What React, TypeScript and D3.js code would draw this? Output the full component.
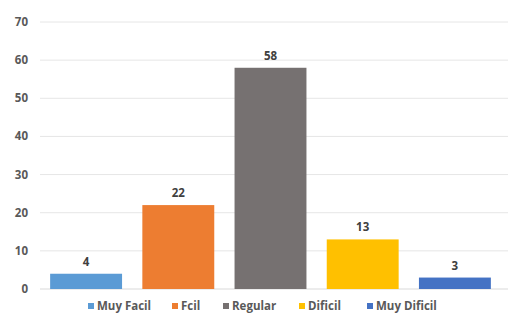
import React from "react";
import * as d3 from "d3";

const categories = ["Muy Facil", "Fcil", "Regular", "Dificil", "Muy Dificil"];
const values = [4, 22, 58, 13, 3];
const colors = ["#5B9BD5", "#ED7D31", "#767171", "#FFC000", "#4472C4"];
const yTicks = [0, 10, 20, 30, 40, 50, 60, 70];

const W = 511, H = 314;
const left = 40, right = 501, top = 22, bottom = 289;

export default function App() {
  const x = d3.scaleBand<string>().domain(categories).range([left, right]).paddingInner(0.22).paddingOuter(0.11);
  const y = d3.scaleLinear().domain([0, 70]).range([bottom, top]);
  const font = "'Open Sans', 'Liberation Sans', sans-serif";
  const legendX = [88, 172, 223, 299, 367];
  return (
    <svg width={W} height={H} style={{ position: "absolute", left: 0, top: 0, background: "#fff" }}>
      {yTicks.map((t) => (
        <g key={t}>
          <line x1={left} x2={508} y1={y(t)} y2={y(t)} stroke={t === 0 ? "#d9d9d9" : "#e6e6e6"} strokeWidth={1} />
          <text x={28} y={y(t) + 4} textAnchor="end" fontSize={11.5} fontWeight={700} fill="#595959" fontFamily={font}>{t}</text>
        </g>
      ))}
      {categories.map((c, i) => (
        <g key={c}>
          <rect x={x(c)} y={y(values[i])} width={x.bandwidth()} height={bottom - y(values[i])} fill={colors[i]} />
          <text x={(x(c) as number) + x.bandwidth() / 2} y={y(values[i]) - 8} textAnchor="middle" fontSize={11.5} fontWeight={700} fill="#404040" fontFamily={font}>{values[i]}</text>
        </g>
      ))}
      {categories.map((c, i) => (
        <g key={"l" + c}>
          <rect x={legendX[i]} y={303} width={6} height={6} fill={colors[i]} />
          <text x={legendX[i] + 9} y={310} fontSize={11.5} fontWeight={700} fill="#595959" fontFamily={font}>{c}</text>
        </g>
      ))}
    </svg>
  );
}
